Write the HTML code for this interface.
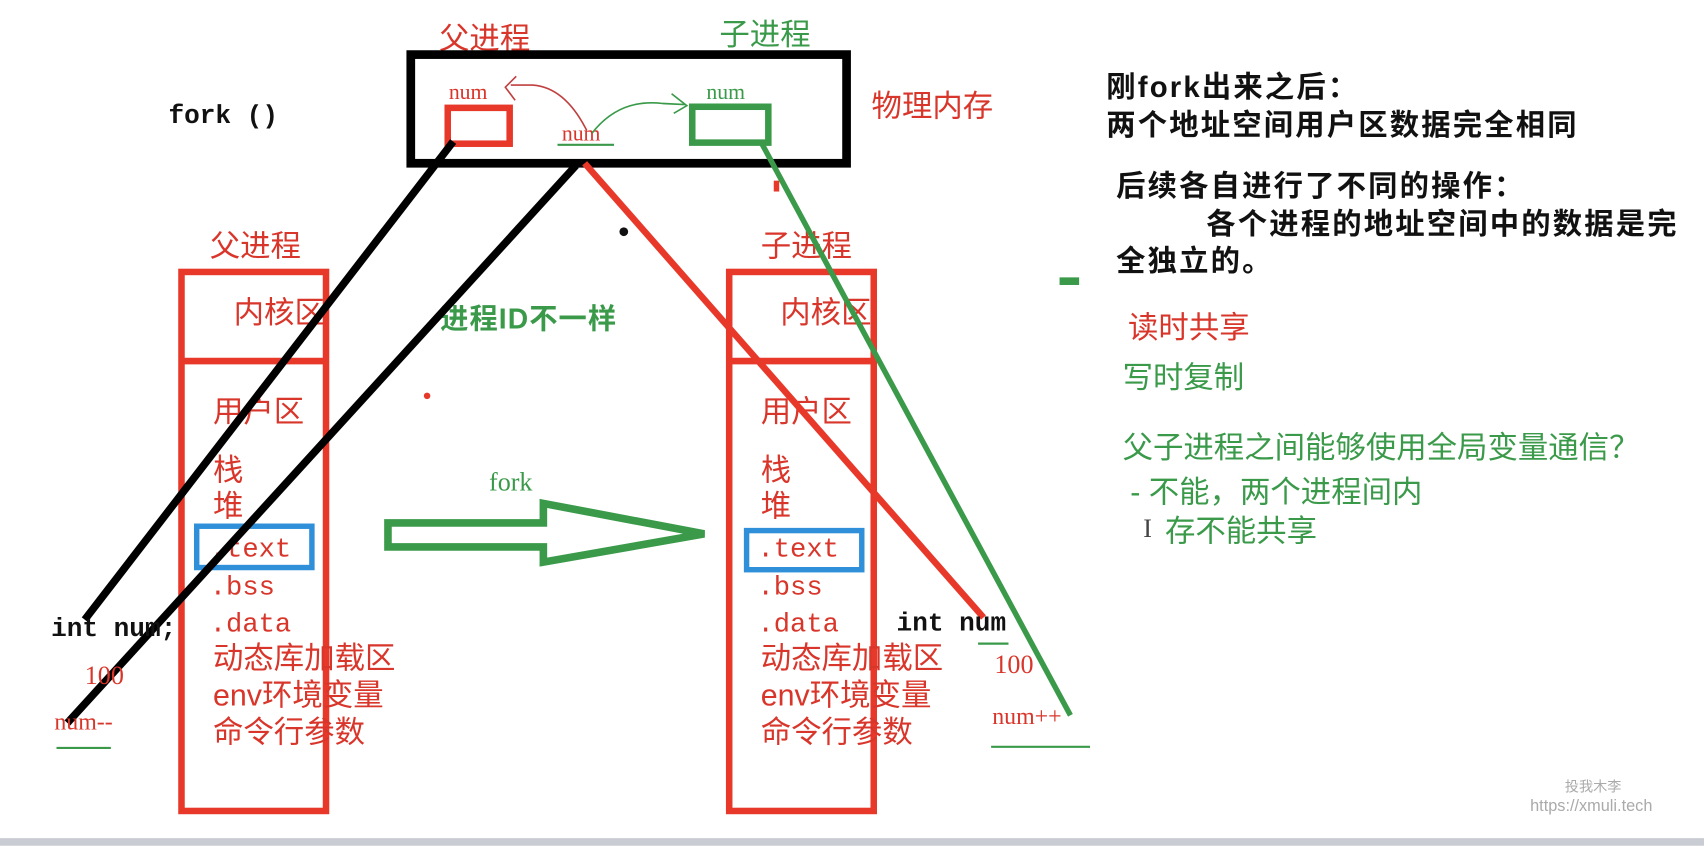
<!DOCTYPE html>
<html><head><meta charset="utf-8"><style>
html,body{margin:0;padding:0;background:#fff;width:1704px;height:846px;overflow:hidden}
svg{display:block}
.cn{font-family:"Liberation Sans","Noto Sans CJK SC",sans-serif}
.mono{font-family:"Liberation Mono","Noto Sans CJK SC",monospace}
.serif{font-family:"Liberation Serif","Noto Serif CJK SC",serif}
</style></head><body>
<svg width="1704" height="846" viewBox="0 0 1568 778" xmlns="http://www.w3.org/2000/svg">
<rect width="1568" height="778" fill="#fff"/>
<rect x="0" y="771" width="1568" height="7" fill="#c9ccd2"/>
<!-- top -->
<text x="404" y="45" class="cn" font-size="28" fill="#d9362b">父进程</text>
<text x="662" y="41" class="cn" font-size="28" fill="#3a9a4a">子进程</text>
<text x="155" y="113" class="mono" font-size="24" font-weight="bold" fill="#111">fork ()</text>
<rect x="378" y="50" width="401" height="100" fill="none" stroke="#000" stroke-width="8"/>
<text x="413" y="91" class="serif" font-size="20" fill="#d9362b">num</text>
<rect x="412" y="99" width="57" height="33" fill="none" stroke="#e8382a" stroke-width="6"/>
<text x="650" y="91" class="serif" font-size="20" fill="#3a9a4a">num</text>
<rect x="637" y="98" width="70" height="33" fill="none" stroke="#3a9a4a" stroke-width="6"/>
<text x="517" y="129" class="serif" font-size="20" fill="#d9362b">num</text>
<line x1="513" y1="133" x2="565" y2="133" stroke="#3a9a4a" stroke-width="2"/>
<path d="M540 120 Q520 80 490 78 L470 78 M475 70 L465 80 L474 92" fill="none" stroke="#c04040" stroke-width="1.5"/>
<path d="M545 122 Q570 90 610 95 L630 96 M618 86 L632 97 L620 104" fill="none" stroke="#3a9a4a" stroke-width="1.5"/>
<text x="802" y="107" class="cn" font-size="28" fill="#d9362b">物理内存</text>
<!-- right text -->
<g class="cn" font-weight="bold" fill="#111" font-size="27" letter-spacing="2">
<text x="1018" y="89">刚fork出来之后：</text>
<text x="1018" y="124">两个地址空间用户区数据完全相同</text>
<text x="1027" y="180">后续各自进行了不同的操作：</text>
<text x="1110" y="215">各个进程的地址空间中的数据是完</text>
<text x="1027" y="249">全独立的。</text>
</g>
<rect x="975" y="255" width="18" height="7" fill="#3a9a4a"/>
<text x="1038" y="311" class="cn" font-size="28" fill="#d9362b">读时共享</text>
<g class="cn" font-size="28" fill="#3a9a4a">
<text x="1033" y="357">写时复制</text>
<text x="1033" y="421">父子进程之间能够使用全局变量通信？</text>
<text x="1040" y="462">-  不能，两个进程间内</text>
<text x="1072" y="498">存不能共享</text>
</g>
<text x="1052" y="494" class="serif" font-size="24" fill="#444">I</text>
<!-- parent box -->
<text x="193" y="236" class="cn" font-size="28" fill="#d9362b">父进程</text>
<rect x="167" y="250" width="133" height="496" fill="none" stroke="#e8382a" stroke-width="6"/>
<line x1="167" y1="332" x2="300" y2="332" stroke="#e8382a" stroke-width="6"/>
<g class="cn" font-size="28" fill="#d9362b">
<text x="215" y="297">内核区</text>
<text x="196" y="388">用户区</text>
<text x="196" y="442">栈</text>
<text x="196" y="475">堆</text>
<text x="196" y="615">动态库加载区</text>
<text x="196" y="649">env环境变量</text>
<text x="196" y="683">命令行参数</text>
</g>
<rect x="181" y="484" width="106" height="38" fill="none" stroke="#2f8fd8" stroke-width="5"/>
<g class="mono" font-size="25" fill="#d9362b">
<text x="193" y="512">.text</text>
<text x="193" y="547">.bss</text>
<text x="193" y="581">.data</text>
</g>
<!-- child box -->
<text x="700" y="236" class="cn" font-size="28" fill="#d9362b">子进程</text>
<rect x="671" y="250" width="133" height="496" fill="none" stroke="#e8382a" stroke-width="6"/>
<line x1="671" y1="332" x2="804" y2="332" stroke="#e8382a" stroke-width="6"/>
<g class="cn" font-size="28" fill="#d9362b">
<text x="718" y="297">内核区</text>
<text x="700" y="388">用户区</text>
<text x="700" y="442">栈</text>
<text x="700" y="475">堆</text>
<text x="700" y="615">动态库加载区</text>
<text x="700" y="649">env环境变量</text>
<text x="700" y="683">命令行参数</text>
</g>
<rect x="687" y="488" width="106" height="36" fill="none" stroke="#2f8fd8" stroke-width="5"/>
<g class="mono" font-size="25" fill="#d9362b">
<text x="697" y="512">.text</text>
<text x="697" y="547">.bss</text>
<text x="697" y="581">.data</text>
</g>
<text x="405" y="302" class="cn" font-size="26" font-weight="bold" fill="#3a9a4a" letter-spacing="1">进程ID不一样</text>
<!-- fork arrow -->
<text x="450" y="451" class="serif" font-size="24" fill="#3a9a4a">fork</text>
<path d="M357 481 L500 481 L500 463 L648 491 L500 517 L500 503 L357 503 Z" fill="none" stroke="#3a9a4a" stroke-width="7" stroke-linejoin="miter"/>
<!-- lines -->
<line x1="417" y1="130" x2="78" y2="570" stroke="#000" stroke-width="7"/>
<line x1="530" y1="152" x2="62" y2="665" stroke="#000" stroke-width="7"/>
<line x1="538" y1="150" x2="905" y2="568" stroke="#e8382a" stroke-width="6"/>
<line x1="700" y1="130" x2="985" y2="658" stroke="#3a9a4a" stroke-width="5"/>
<!-- side labels -->
<text x="47" y="585" class="mono" font-size="24" font-weight="bold" fill="#111">int num;</text>
<text x="78" y="629" class="serif" font-size="24" fill="#d9362b">100</text>
<text x="50" y="671" class="serif" font-size="22" fill="#d9362b">num--</text>
<line x1="52" y1="688" x2="102" y2="688" stroke="#3a9a4a" stroke-width="2"/>
<text x="825" y="580" class="mono" font-size="24" font-weight="bold" fill="#111">int num</text>
<line x1="900" y1="592" x2="928" y2="592" stroke="#3a9a4a" stroke-width="2"/>
<text x="915" y="619" class="serif" font-size="24" fill="#d9362b">100</text>
<text x="913" y="666" class="serif" font-size="22" fill="#d9362b">num++</text>
<line x1="912" y1="687" x2="1003" y2="687" stroke="#3a9a4a" stroke-width="2"/>
<circle cx="574" cy="213" r="4" fill="#111"/>
<circle cx="393" cy="364" r="3" fill="#e8382a"/>
<rect x="712" y="166" width="5" height="10" fill="#e8382a"/>
<text x="1440" y="728" class="cn" font-size="13" fill="#aaa">投我木李</text>
<text x="1408" y="746" class="cn" font-size="15" fill="#aaa">https://xmuli.tech</text>
</svg>
</body></html>
